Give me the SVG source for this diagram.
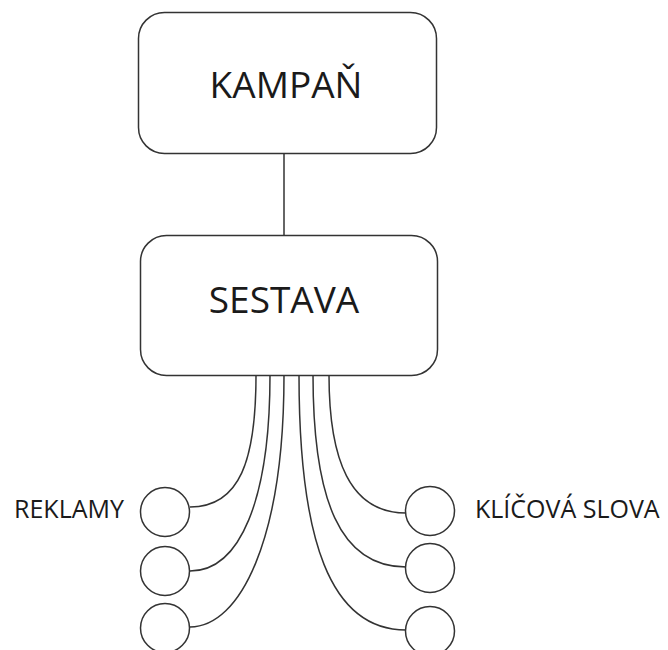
<svg xmlns="http://www.w3.org/2000/svg" width="668" height="650" viewBox="0 0 668 650">
<style>
.box{fill:#fff;stroke:#333;stroke-width:1.5}
.c{fill:#fff;stroke:#333;stroke-width:1.5}
.ln{fill:none;stroke:#333;stroke-width:1.5}
.big{font-family:"Open Sans",sans-serif;font-size:37px;fill:#1a1a1a;text-anchor:middle}
.lbl{font-family:"Open Sans",sans-serif;font-size:25px;fill:#1a1a1a}
</style>
<rect width="668" height="650" fill="#fff"/>
<g id="connectors">
<line class="ln" x1="284" y1="153" x2="284" y2="235"/>
<path class="ln" d="M256 375 C256 460,240 507,190 507"/>
<path class="ln" d="M270 375 C270 500,240 571,190 571"/>
<path class="ln" d="M284 375 C284 540,240 627,190 627"/>
<path class="ln" d="M299 375 C299 540,330 630,406 630"/>
<path class="ln" d="M313 375 C313 500,340 567,406 567"/>
<path class="ln" d="M329 375 C329 460,350 513,406 513"/>
</g>
<g id="kampan">
<rect class="box" x="138.5" y="12.5" width="298" height="141" rx="26"/>
<text class="big" x="286" y="98">KAMPAŇ</text>
</g>
<g id="sestava">
<rect class="box" x="140.5" y="235.5" width="297" height="140" rx="26"/>
<text class="big" x="284" y="313">SESTAVA</text>
</g>
<g id="reklamy">
<text class="lbl" x="14" y="518">REKLAMY</text>
<circle class="c" cx="165" cy="512" r="24.5"/>
<circle class="c" cx="165" cy="571" r="24.5"/>
<circle class="c" cx="165" cy="628" r="24.5"/>
</g>
<g id="klicova-slova">
<text class="lbl" x="475" y="518">KLÍČOVÁ SLOVA</text>
<circle class="c" cx="430" cy="511" r="24.5"/>
<circle class="c" cx="430" cy="568" r="24.5"/>
<circle class="c" cx="430" cy="631" r="24.5"/>
</g>
</svg>
